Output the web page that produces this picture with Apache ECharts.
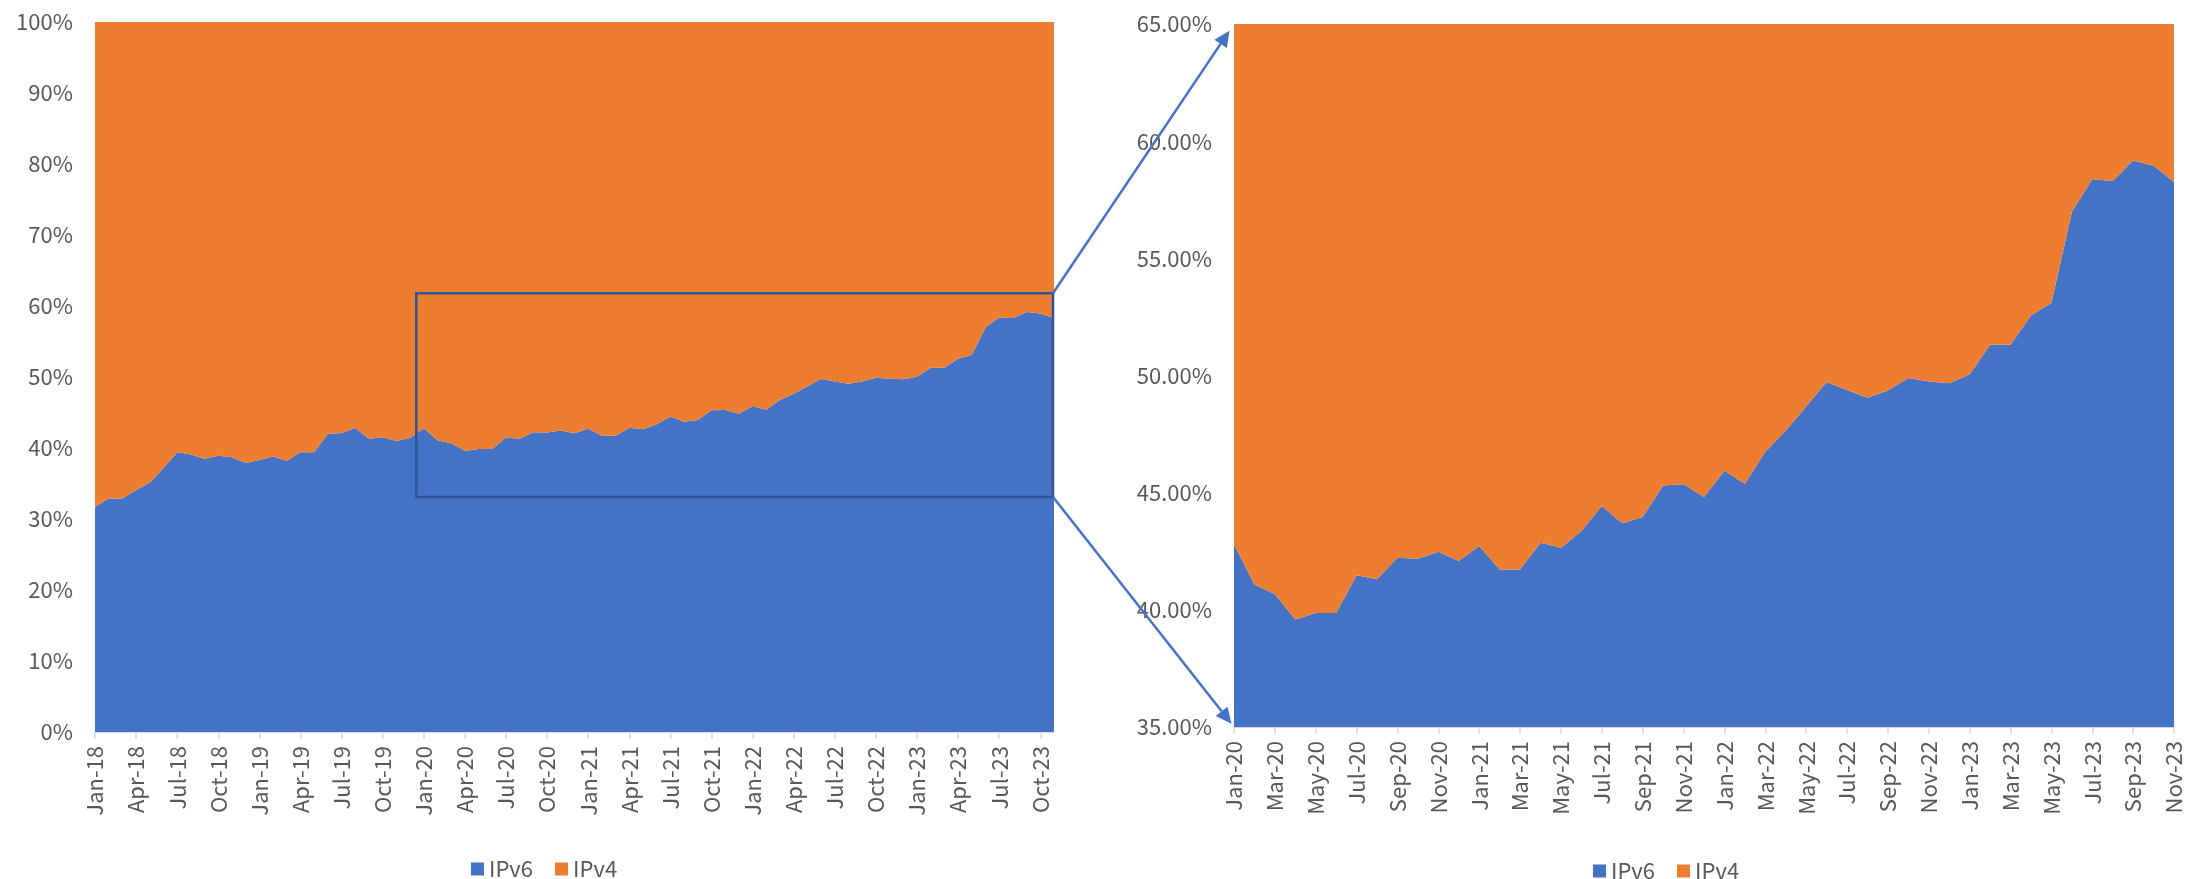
<!DOCTYPE html>
<html>
<head>
<meta charset="utf-8">
<script src="https://cdn.jsdelivr.net/npm/echarts@6/dist/echarts.min.js"></script>
<style>
  html, body { margin: 0; padding: 0; background: #fff; }
  #chart { width: 2201px; height: 879px; }
</style>
</head>
<body>
<div id="chart"></div>
<script>
// ---------- data ----------
const months = [
  'Jan-18','Feb-18','Mar-18','Apr-18','May-18','Jun-18','Jul-18','Aug-18','Sep-18','Oct-18','Nov-18','Dec-18',
  'Jan-19','Feb-19','Mar-19','Apr-19','May-19','Jun-19','Jul-19','Aug-19','Sep-19','Oct-19','Nov-19','Dec-19',
  'Jan-20','Feb-20','Mar-20','Apr-20','May-20','Jun-20','Jul-20','Aug-20','Sep-20','Oct-20','Nov-20','Dec-20',
  'Jan-21','Feb-21','Mar-21','Apr-21','May-21','Jun-21','Jul-21','Aug-21','Sep-21','Oct-21','Nov-21','Dec-21',
  'Jan-22','Feb-22','Mar-22','Apr-22','May-22','Jun-22','Jul-22','Aug-22','Sep-22','Oct-22','Nov-22','Dec-22',
  'Jan-23','Feb-23','Mar-23','Apr-23','May-23','Jun-23','Jul-23','Aug-23','Sep-23','Oct-23','Nov-23'
];
const ipv6 = [
  31.7, 32.9, 32.9, 34.1, 35.1, 37.2, 39.4, 39.1, 38.5, 38.9, 38.7, 37.9,
  38.3, 38.8, 38.2, 39.4, 39.4, 42.0, 42.1, 42.8, 41.3, 41.5, 41.0, 41.4,
  42.79, 41.08, 40.66, 39.59, 39.87, 39.87, 41.48, 41.30, 42.22, 42.18, 42.48, 42.08,
  42.72, 41.72, 41.72, 42.86, 42.65, 43.36, 44.43, 43.69, 43.96, 45.31, 45.36, 44.81,
  45.93, 45.38, 46.75, 47.64, 48.68, 49.72, 49.38, 49.05, 49.36, 49.89, 49.74, 49.67,
  50.04, 51.31, 51.31, 52.56, 53.09, 56.98, 58.38, 58.30, 59.17, 58.95, 58.26
];
const ipv4 = [
  68.3, 67.1, 67.1, 65.9, 64.9, 62.8, 60.6, 60.9, 61.5, 61.1, 61.3, 62.1,
  61.7, 61.2, 61.8, 60.6, 60.6, 58.0, 57.9, 57.2, 58.7, 58.5, 59.0, 58.6,
  57.21, 58.92, 59.34, 60.41, 60.13, 60.13, 58.52, 58.70, 57.78, 57.82, 57.52, 57.92,
  57.28, 58.28, 58.28, 57.14, 57.35, 56.64, 55.57, 56.31, 56.04, 54.69, 54.64, 55.19,
  54.07, 54.62, 53.25, 52.36, 51.32, 50.28, 50.62, 50.95, 50.64, 50.11, 50.26, 50.33,
  49.96, 48.69, 48.69, 47.44, 46.91, 43.02, 41.62, 41.70, 40.83, 41.05, 41.74
];
const zoomStartLabel = 'Jan-20';
const seriesNames = ['IPv6', 'IPv4'];
// zoom box on the left chart (value range in %)
const boxTop = 61.8;
const boxBottom = 33.1;

// ---------- derived ----------
const zi = months.indexOf(zoomStartLabel);
const monthsR = months.slice(zi);
const ipv6R = ipv6.slice(zi);
const ipv4R = ipv4.slice(zi);

const FONT = '"Noto Sans CJK JP", "Noto Sans", sans-serif';
const GREY = '#595959';
const BLUE = '#4472C4';
const ORANGE = '#ED7D31';
const FS = 22;

const chart = echarts.init(document.getElementById('chart'), null, { renderer: 'canvas' });

function xAxisCfg(gridIndex, data, interval) {
  return {
    type: 'category', gridIndex, data, boundaryGap: false,
    axisLine: { show: true, lineStyle: { color: '#D9D9D9', width: 1.5 } },
    axisTick: { show: true, interval, length: 7, lineStyle: { color: '#D9D9D9', width: 1.5 } },
    axisLabel: { interval, rotate: 90, margin: 14, color: GREY, fontSize: FS, fontFamily: FONT, hideOverlap: false },
    splitLine: { show: false }
  };
}

function areaSeries(name, xi, data, color, stack) {
  return {
    name, type: 'line', xAxisIndex: xi, yAxisIndex: xi, stack, data,
    showSymbol: false, symbol: 'none', clip: true,
    lineStyle: { width: 0 },
    areaStyle: { color, opacity: 1 },
    itemStyle: { color },
    emphasis: { disabled: true }
  };
}

const legendCommon = {
  data: seriesNames, icon: 'rect', itemWidth: 13, itemHeight: 13, itemGap: 22,
  textStyle: { color: GREY, fontSize: FS, fontFamily: FONT }
};

chart.setOption({
  animation: false,
  backgroundColor: '#fff',
  grid: [
    { left: 95, right: 1147, top: 22, bottom: 147 },
    { left: 1234, right: 27, top: 24, bottom: 152 }
  ],
  xAxis: [ xAxisCfg(0, months, 2), xAxisCfg(1, monthsR, 1) ],
  yAxis: [
    { type: 'value', gridIndex: 0, min: 0, max: 100, interval: 10,
      axisLine: { show: false }, axisTick: { show: false },
      axisLabel: { formatter: '{value}%', color: GREY, fontSize: FS, fontFamily: FONT, margin: 22 },
      splitLine: { show: true, lineStyle: { color: '#D9D9D9' } } },
    { type: 'value', gridIndex: 1, min: 35, max: 65, interval: 5,
      axisLine: { show: false }, axisTick: { show: false },
      axisLabel: { formatter: v => v.toFixed(2) + '%', color: GREY, fontSize: FS, fontFamily: FONT, margin: 22 },
      splitLine: { show: true, lineStyle: { color: '#D9D9D9' } } }
  ],
  legend: [
    Object.assign({ left: 466, top: 853 }, legendCommon),
    Object.assign({ left: 1588, top: 855 }, legendCommon)
  ],
  series: [
    areaSeries('IPv6', 0, ipv6, BLUE, 'L'),
    areaSeries('IPv4', 0, ipv4, ORANGE, 'L'),
    areaSeries('IPv6', 1, ipv6R, BLUE, 'R'),
    areaSeries('IPv4', 1, ipv4R, ORANGE, 'R')
  ]
});

// ---------- annotations: zoom box + arrows ----------
function pxAt(grid, fIdx, val) {
  const i0 = Math.floor(fIdx), i1 = Math.min(i0 + 1, (grid === 0 ? months.length : monthsR.length) - 1);
  const p0 = chart.convertToPixel({ gridIndex: grid }, [i0, val]);
  const p1 = chart.convertToPixel({ gridIndex: grid }, [i1, val]);
  const t = fIdx - i0;
  return [p0[0] + (p1[0] - p0[0]) * t, p0[1]];
}
const tl = pxAt(0, zi - 0.55, boxTop);
const br = pxAt(0, months.length - 1, boxBottom);
br[0] -= 1;

const rTop = chart.convertToPixel({ gridIndex: 1 }, [0, 65]);
const rBot = chart.convertToPixel({ gridIndex: 1 }, [0, 35]);

function arrow(from, to, shorten) {
  const dx = to[0] - from[0], dy = to[1] - from[1];
  const L = Math.sqrt(dx * dx + dy * dy);
  const ux = dx / L, uy = dy / L;
  const tip = [to[0] - ux * shorten, to[1] - uy * shorten];
  const headLen = 16, headW = 7.5;
  const base = [tip[0] - ux * headLen, tip[1] - uy * headLen];
  const nx = -uy, ny = ux;
  return [
    { type: 'line', z: 100, silent: true,
      shape: { x1: from[0], y1: from[1], x2: base[0], y2: base[1] },
      style: { stroke: BLUE, lineWidth: 2.5 } },
    { type: 'polygon', z: 100, silent: true,
      shape: { points: [tip, [base[0] + nx * headW, base[1] + ny * headW], [base[0] - nx * headW, base[1] - ny * headW]] },
      style: { fill: BLUE } }
  ];
}

chart.setOption({
  graphic: [
    { type: 'rect', z: 100, silent: true,
      shape: { x: tl[0], y: tl[1], width: br[0] - tl[0], height: br[1] - tl[1] },
      style: { fill: null, stroke: '#2F5597', lineWidth: 2.5 } },
    ...arrow([br[0], tl[1]], rTop, 8),
    ...arrow([br[0], br[1]], rBot, 4)
  ]
});
</script>
</body>
</html>
